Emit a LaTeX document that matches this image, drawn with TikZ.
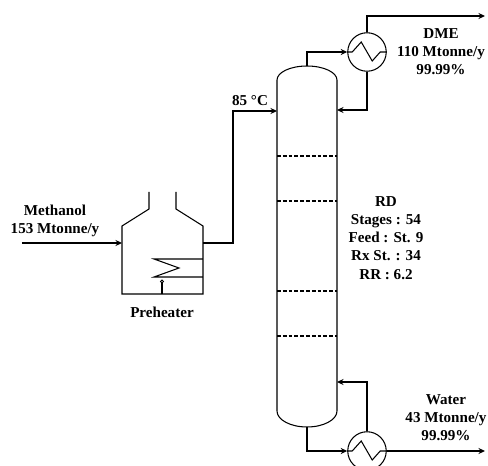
\documentclass[tikz,border=0pt]{standalone}
\usepackage{fontspec}
\setmainfont{Liberation Serif}
\usetikzlibrary{arrows.meta}
\tikzset{
  hx/.style={draw, circle, fill=white, line width=0.6pt, minimum size=0.77cm, inner sep=0pt},
  lbl/.style={font=\fontsize{8.6}{10.3}\selectfont\bfseries, align=center, inner sep=0pt},
  flow/.style={-{Stealth[length=1.3mm,width=1.2mm]}, line width=0.75pt},
  unit/.style={line width=0.6pt},
  tray/.style={line width=0.6pt, dash pattern=on 2.2pt off 1.1pt},
}
\begin{document}
\begin{tikzpicture}[x=0.02cm,y=-0.02cm]
\useasboundingbox (0,0) rectangle (488,466);
\clip (0,0) rectangle (488,466);
% column
\coordinate (coltop) at (307,66);
\coordinate (colbot) at (307,427);
\coordinate (feedin) at (277,111);
\coordinate (refin) at (337,110);
\coordinate (boilin) at (337,382);
\draw[unit] (277,80) .. controls (277,72.3) and (290.4,66) .. (coltop) .. controls (323.6,66) and (337,72.3) .. (337,80)
  -- (337,411) .. controls (337,419.8) and (323.6,427) .. (colbot) .. controls (290.4,427) and (277,419.8) .. (277,411) -- cycle;
\foreach \y/\name in {156/a,201/b,291/c,336/d} {
  \coordinate (tl\name) at (277,\y);
  \coordinate (tr\name) at (337,\y);
  \draw[tray] (tl\name) -- (tr\name);
}
% condenser and reboiler
\node[hx] (cond) at (367,52) {};
\node[hx] (reb) at (367,451) {};
\draw[unit] (cond.west) -- ++(5,0) -- ++(9,-10) -- ++(11,19) -- ++(8,-9) -- (cond.east);
\draw[unit] (reb.west) -- ++(5,0) -- ++(9,-10) -- ++(11,19) -- ++(8,-9) -- (reb.east);
\coordinate (dmeout) at (485,16);
\coordinate (waterout) at (485,451);
\draw[flow] (coltop) |- (cond.west);
\draw[flow] (cond.north) |- (dmeout);
\draw[flow] (cond.south) |- (refin);
\draw[flow] (colbot) |- (reb.west);
\draw[flow] (reb.north) |- (boilin);
\draw[flow] (reb.east) -- (waterout);
% preheater
\coordinate (phin) at (122,243);
\coordinate (phout) at (203,243);
\coordinate (mein) at (22,243);
\draw[unit] (149,192) -- (149,209) -- (122,226) -- (122,294) -- (203,294) -- (203,226) -- (176,209) -- (176,192);
\draw[unit] (203,259) -- (154,259) -- (179,268) -- (154,277) -- (203,277);
\node[draw, circle, line width=0.5pt, minimum size=0.06cm, inner sep=0pt] (stem) at (162,281.5) {};
\draw[unit] (stem.south) -- (162,294);
\draw[flow] (mein) -- (phin);
\draw[flow] (phout) -- (233,243) |- (feedin);
% labels
\node[lbl] (dme) at (441,52) {DME\\110 Mtonne/y\\99.99\%};
\node[lbl] (water) at (446,418) {Water\\43 Mtonne/y\\99.99\%};
\node[lbl] (meoh) at (55,220.5) {Methanol\\153 Mtonne/y};
\node[lbl] (feedt) at (250,101) {85 °C};
\node[lbl] (phname) at (162,312) {Preheater};
\node[lbl] (rd) at (386,238) {RD\\Stages : 54\\Feed : St. 9\\Rx St. : 34\\RR : 6.2};
\end{tikzpicture}
\end{document}
